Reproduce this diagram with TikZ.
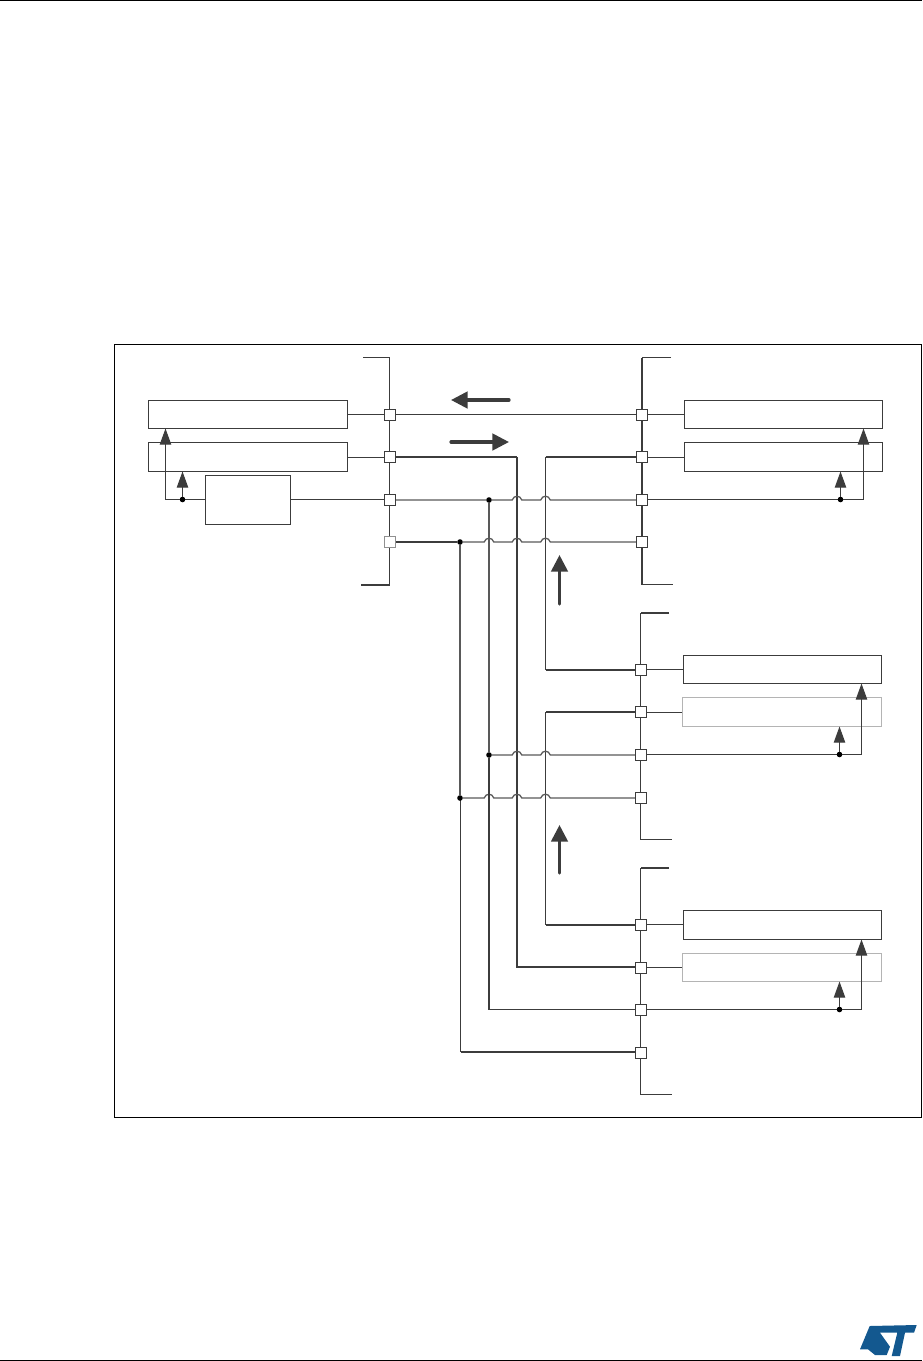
\documentclass[tikz,border=0pt]{standalone}
\usetikzlibrary{arrows.meta,backgrounds}
\definecolor{ink}{HTML}{3C3C3C}
\definecolor{faded}{HTML}{B4B4B4}
\definecolor{logoblue}{HTML}{13588F}
\newcommand\jmp[2]{-- ([xshift=-3.6pt]#1 |- #2) .. controls ([xshift=-2.4pt,yshift=3.8pt]#1 |- #2) and ([xshift=2.4pt,yshift=3.8pt]#1 |- #2) .. ([xshift=3.6pt]#1 |- #2)}
\tikzset{
  wire/.style={draw=ink,line width=0.75pt},
  medium/.style={draw=ink!85,line width=0.95pt},
  heavy/.style={draw=ink,line width=1.5pt},
  block/.style 2 args={draw=ink,line width=0.75pt,inner sep=0pt,outer sep=0pt,minimum width=#1*0.75pt,minimum height=#2*0.75pt},
  ghost/.style 2 args={draw=faded,line width=0.9pt,inner sep=0pt,outer sep=0pt,minimum width=#1*0.75pt,minimum height=#2*0.75pt},
  port/.style={draw=ink,fill=white,line width=0.75pt,inner sep=0pt,outer sep=0pt,minimum size=8.25pt},
  fadedport/.style={port,draw=faded!70!ink},
  joint/.style={circle,fill=black,inner sep=0pt,outer sep=0pt,minimum size=4.2pt},
  feed/.style={draw=ink,line width=0.75pt,-{Triangle[length=12pt,width=8.5pt,color=ink]}},
  flow/.style={draw=ink,line width=2.4pt,line cap=round,-{Triangle[length=12.5pt,width=12.4pt,color=ink]}},
}
\begin{document}
\begin{tikzpicture}[x=0.75pt,y=-0.75pt]
\useasboundingbox (0,0) rectangle (922,1361);
% page rules and frame
\coordinate (ptl) at (0,0.5); \coordinate (ptr) at (922,0.5);
\coordinate (pbl) at (0,1360.5); \coordinate (pbr) at (922,1360.5);
\draw[black,line width=0.75pt] (ptl) -- (ptr);
\draw[black,line width=0.85pt] (pbl) -- (pbr);
\node[draw=black,line width=0.75pt,inner sep=0pt,outer sep=0pt,minimum width=605.25pt,minimum height=579.75pt] (frame) at (518,731) {};
% logo
\fill[logoblue] (869.7,1326) -- (916.7,1325) -- (914,1332.7) -- (905,1332.7) -- (900,1356) -- (891.7,1356) -- (897.3,1332.7) -- (880,1332.7) -- (890,1346.7) -- (886.7,1355) -- (875,1355) -- (868,1349.3) -- (860,1349.3) -- cycle;
% vertical wire positions
\coordinate (v1) at (460,0); \coordinate (v1b) at (460.5,0);
\coordinate (v2) at (489,0);
\coordinate (v3) at (517,0); \coordinate (v4) at (545.5,0);
\coordinate (k1) at (389.5,0); \coordinate (k3) at (640.5,0);
% thin wire rows
\coordinate (q1) at (0,414.5); \coordinate (q2) at (0,457.5);
\coordinate (q3) at (0,499.5); \coordinate (q33) at (0,754.5);
\coordinate (q43) at (0,1009.5); \coordinate (q32) at (0,712.5);
\coordinate (q41) at (0,924.5); \coordinate (q42) at (0,967);
\coordinate (q44) at (0,1052);
% left side
\node[block={199}{28}] (a1) at (248,414.5) {};
\node[block={199}{29}] (a2) at (248,457) {};
\node[block={85}{49}] (bc) at (248,500) {};
\node[port] (s11) at (390,415) {};
\node[port] (s12) at (390,457) {};
\node[port] (s13) at (390,500) {};
\node[fadedport] (s14) at (390,542) {};
\node[joint] (da) at (182.5,499.5) {};
\coordinate (ca) at (165.5,499.5);
% bus 2
\node[block={198}{28}] (b1) at (783.5,414.5) {};
\node[block={198}{29}] (b2) at (783.5,457) {};
\node[port] (s21) at (642,415) {};
\node[port] (s22) at (642,457) {};
\node[port] (s23) at (642,500) {};
\node[port] (s24) at (642,542) {};
\node[joint] (db) at (840.5,499.5) {};
\coordinate (cb) at (863.5,499.5);
% bus 3
\node[block={198}{28}] (c1) at (782.5,669.5) {};
\node[ghost={199}{29}] (c2) at (782,712) {};
\node[port] (s31) at (641,670) {};
\node[port] (s32) at (641,712) {};
\node[port] (s33) at (641,755) {};
\node[port] (s34) at (641,798) {};
\node[joint] (dc) at (839.5,754.5) {};
\coordinate (cc) at (861.5,754.5);
% bus 4
\node[block={198}{29}] (d1) at (782.5,925) {};
\node[ghost={199}{28}] (d2) at (782,967.5) {};
\node[port] (s41) at (641,925) {};
\node[port] (s42) at (641,968) {};
\node[port] (s43) at (641,1010) {};
\node[port] (s44) at (641,1053) {};
\node[joint] (dd) at (839.5,1009.5) {};
\coordinate (cd) at (861.5,1009.5);
% junctions on the crossing wires
\node[joint] (j1) at (v2 |- s13) {};
\node[joint] (j2) at (v1 |- s14) {};
\node[joint] (j3) at (v2 |- s33) {};
\node[joint] (j4) at (v1 |- s34) {};
% bus stubs
\coordinate (t1) at (363,357.5); \coordinate (u1) at (361,585);
\coordinate (t2) at (671,357.5); \coordinate (u2) at (673,584.5);
\coordinate (t3) at (669,613); \coordinate (u3) at (672,839.5);
\coordinate (t4) at (669,868); \coordinate (u4) at (672,1094.5);
% big arrows
\coordinate (f1a) at (509,400); \coordinate (f1b) at (451,400);
\coordinate (f2a) at (451,442); \coordinate (f2b) at (509,442);
\coordinate (f3a) at (559.5,604); \coordinate (f3b) at (559.5,555);
\coordinate (f4a) at (559.5,873); \coordinate (f4b) at (559.5,825);
\draw[flow] (f1a) -- (f1b);
\draw[flow] (f2a) -- (f2b);
\draw[flow] (f3a) -- (f3b);
\draw[flow] (f4a) -- (f4b);
% feedback arrows, above the boxes
\draw[feed] (da) -- (da |- a2.south);
\draw[feed] (da) -- (ca) -- (ca |- a1.south);
\draw[feed] (db) -- (db |- b2.south);
\draw[feed] (db) -- (cb) -- (cb |- b1.south);
\draw[feed] (dc) -- (dc |- c2.south);
\draw[feed] (dc) -- (cc) -- (cc |- c1.south);
\draw[feed] (dd) -- (dd |- d2.south);
\draw[feed] (dd) -- (cd) -- (cd |- d1.south);
\begin{scope}[on background layer]
  % buses
  \draw[wire] (t1) -- (k1 |- t1) -- (k1 |- u1);
  \draw[heavy] (k1 |- u1) -- (u1);
  \draw[wire] (t2) -- (s21 |- t2);
  \draw[heavy] (s21 |- t2) -- (s21 |- u2);
  \draw[wire] (s21 |- u2) -- (u2);
  \draw[heavy] (t3) -- (k3 |- t3);
  \draw[wire] (k3 |- t3) -- (k3 |- u3) -- (u3);
  \draw[heavy] (t4) -- (k3 |- t4);
  \draw[wire] (k3 |- t4) -- (k3 |- u4) -- (u4);
  % box to port
  \draw[wire] (a1.east) -- (s11 |- a1.east);
  \draw[wire] (a2.east |- q2) -- (s12 |- q2);
  \draw[wire] (s21 |- b1.west) -- (b1.west);
  \draw[wire] (s22 |- q2) -- (b2.west |- q2);
  \draw[wire] (s31 |- c1.west) -- (c1.west);
  \draw[wire] (s32 |- q32) -- (c2.west |- q32);
  \draw[wire] (s41 |- q41) -- (d1.west |- q41);
  \draw[wire] (s42 |- d2.west) -- (d2.west);
  % wires to the feedback joints
  \draw[wire] (s13 |- q3) -- (bc.east |- q3);
  \draw[wire] (bc.west |- q3) -- (da);
  \draw[wire] (s23 |- q3) -- (db);
  \draw[wire] (s33 |- q33) -- (dc);
  \draw[wire] (s43 |- q43) -- (dd);
  % cross wires
  \draw[wire] (s11 |- q1) -- (s21 |- q1);
  \draw[heavy] (s12) -- (v3 |- s12);
  \draw[heavy] (v3 |- s12) -- (v3 |- q42) -- (s42 |- q42);
  \draw[heavy] (v4 |- s22) -- (s22);
  \draw[wire] (v4 |- s22) -- (v4 |- s31);
  \draw[heavy] (v4 |- s31) -- (s31);
  \draw[heavy] (s32) -- (v4 |- s32);
  \draw[wire] (v4 |- s32) -- (v4 |- s41);
  \draw[heavy] (v4 |- s41) -- (s41);
  \draw[medium] (s13) -- (j1) \jmp{v3}{s13} \jmp{v4}{s13} -- (s23);
  \draw[heavy] (s14) -- (j2);
  \draw[medium] (j2) \jmp{v2}{s14} \jmp{v3}{s14} \jmp{v4}{s14} -- (s24);
  \draw[medium] (j3) \jmp{v3}{s33} \jmp{v4}{s33} -- (s33);
  \draw[medium] (j4) \jmp{v2}{s34} \jmp{v3}{s34} \jmp{v4}{s34} -- (s34);
  \draw[medium] (j1) -- (j3);
  \draw[heavy] (j3) -- (v2 |- q43);
  \draw[wire] (v2 |- q43) -- (s43 |- q43);
  \draw[medium] (j2) -- (j4);
  \draw[wire] (v1b |- j4) -- (v1b |- q44);
  \draw[heavy] (v1b |- q44) -- (s44 |- q44);
\end{scope}
\end{tikzpicture}
\end{document}
